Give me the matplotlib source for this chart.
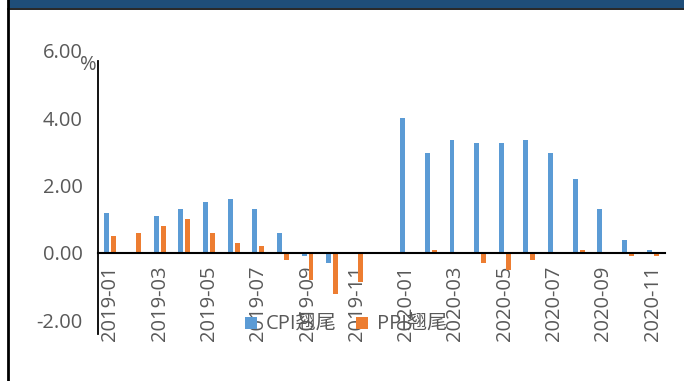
import matplotlib
matplotlib.use("Agg")
import matplotlib.pyplot as plt
import numpy as np
from matplotlib.patches import Rectangle
from matplotlib.lines import Line2D

plt.rcParams['font.family'] = ['Open Sans', 'Noto Sans CJK SC', 'DejaVu Sans']

months = ["2019-01", "2019-02", "2019-03", "2019-04", "2019-05", "2019-06",
          "2019-07", "2019-08", "2019-09", "2019-10", "2019-11", "2019-12",
          "2020-01", "2020-02", "2020-03", "2020-04", "2020-05", "2020-06",
          "2020-07", "2020-08", "2020-09", "2020-10", "2020-11"]
cpi_tail = [1.2, 0.0, 1.1, 1.3, 1.5, 1.6, 1.3, 0.6, -0.1, -0.3, 0.0, 0.0,
            4.0, 2.95, 3.35, 3.25, 3.25, 3.35, 2.95, 2.2, 1.3, 0.4, 0.1]
ppi_tail = [0.5, 0.6, 0.8, 1.0, 0.6, 0.3, 0.2, -0.2, -0.8, -1.2, -0.85, 0.0,
            0.0, 0.1, 0.0, -0.3, -0.5, -0.2, 0.0, 0.1, 0.0, -0.1, -0.1]
yticks = [-2, 0, 2, 4, 6]
series_names = ["CPI翘尾", "PPI翘尾"]

blue = "#5B9BD5"
orange = "#ED7D31"
grey = "#595959"

W, H = 684, 381
fig = plt.figure(figsize=(W / 100, H / 100), dpi=100)
fig.patch.set_facecolor("white")

# header band and left border
fig.add_artist(Rectangle((8 / W, 1 - 8 / H), 1 - 8 / W, 8 / H, transform=fig.transFigure,
                         facecolor="#1F4E79", edgecolor="none"))
fig.add_artist(Line2D([8 / W, 1], [1 - 8.5 / H, 1 - 8.5 / H], transform=fig.transFigure,
                      color="black", lw=1.2))
fig.add_artist(Line2D([8 / W, 8 / W], [0, 1], transform=fig.transFigure, color="black", lw=2))

ymin, ymax = -2.4, 6.0
top_px, bot_px = 50.5, 334
ax = fig.add_axes([98 / W, 1 - bot_px / H, (665 - 98) / W, (bot_px - top_px) / H])
ax.set_facecolor("none")

x = np.arange(len(months))
w = 0.2
ax.bar(x - 0.14, cpi_tail, width=w, color=blue, label=series_names[0], zorder=2)
ax.bar(x + 0.14, ppi_tail, width=w, color=orange, label=series_names[1], zorder=2)

ax.set_xlim(-0.5, len(months) - 0.5)
ax.set_ylim(ymin, ymax)

for s in ["top", "right"]:
    ax.spines[s].set_visible(False)
ax.spines["bottom"].set_position(("data", 0))
ax.spines["bottom"].set_color("black")
ax.spines["bottom"].set_linewidth(1.5)
ax.spines["bottom"].set_zorder(3)
ax.spines["left"].set_bounds(ymin, 5.7)
ax.spines["left"].set_color("black")
ax.spines["left"].set_linewidth(1.3)

ax.set_yticks(yticks)
ax.set_yticklabels([f"{v:.2f}" for v in yticks])
ax.tick_params(axis="y", length=0, pad=11, labelsize=14.5, labelcolor=grey)

ax.set_xticks(x[::2])
ax.set_xticklabels(months[::2], rotation=90)
ax.tick_params(axis="x", length=0, pad=9, labelsize=14.5, labelcolor=grey)

fig.text(80 / W, 1 - 65 / H, "%", fontsize=14.5, color=grey, va="center", ha="left")

leg = fig.legend(loc="center", bbox_to_anchor=(346 / W, 1 - 325 / H), ncol=2, frameon=False,
                 fontsize=14.5, handlelength=0.6, handleheight=0.6, handletextpad=0.4,
                 columnspacing=1.0, borderpad=0)
for t in leg.get_texts():
    t.set_color(grey)

fig.savefig("out.png", dpi=100, facecolor="white")
